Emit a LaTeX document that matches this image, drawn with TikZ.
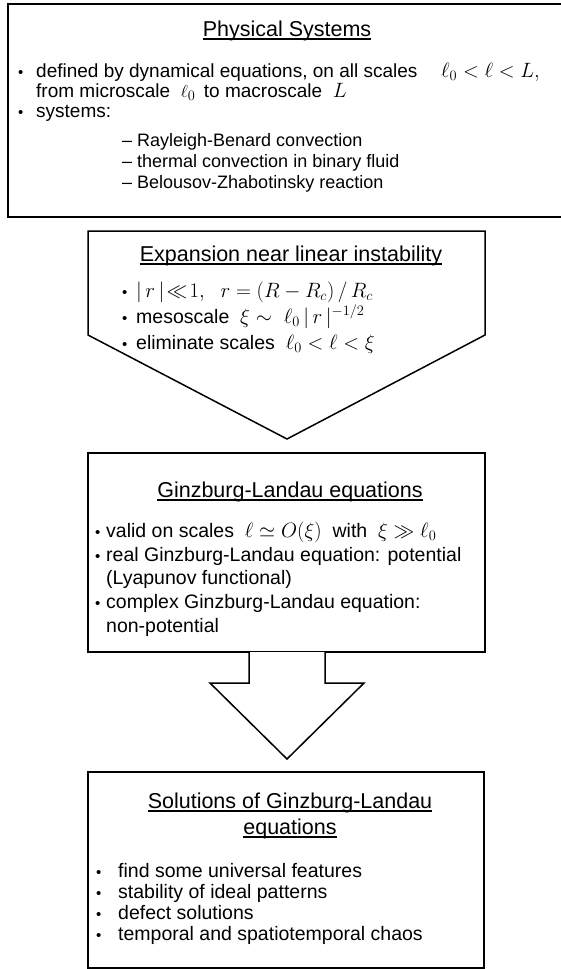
\documentclass[tikz,border=0pt]{standalone}
\usepackage{amsmath,amssymb}
\usepackage{fontspec}
\setmainfont{Liberation Sans}
\begin{document}
\begin{tikzpicture}[x=1pt,y=-1pt,
  box/.style={draw=black,line width=1.5pt,fill=white},
  body/.style={anchor=base west,inner sep=0pt,font=\fontsize{19.5}{22}\selectfont},
  bodyA/.style={anchor=base west,inner sep=0pt,font=\fontsize{19}{22}\selectfont},
  subit/.style={anchor=base west,inner sep=0pt,font=\fontsize{18}{20}\selectfont},
  mth/.style={anchor=base west,inner sep=0pt,font=\fontsize{21}{24}\selectfont},
  ttl/.style={anchor=base,inner sep=0pt,font=\fontsize{21.5}{24}\selectfont},
  bul/.style={anchor=base west,inner sep=0pt,font=\fontsize{15}{18}\selectfont},
  uline/.style={line width=1.1pt}]
\useasboundingbox (0,0) rectangle (561,969);
\fill[white] (0,0) rectangle (561,969);
% ---------- box 1
\coordinate (b1nw) at (8,4);
\coordinate (b1se) at (580,217);
\draw[box] (b1nw) rectangle (b1se);
\node[ttl] (t1) at (287,36) {Physical Systems};
\draw[uline] ([yshift=-3pt]t1.base west) -- ([yshift=-3pt]t1.base east);
\node[bul] (b1a) at (18,77) {•};
\node[bodyA] (l1a) at (36,77) {defined by dynamical equations, on all scales};
\node[mth] (m1a) at (441,77) {$\ell_0<\ell<L,$};
\node[bodyA] (l1b) at (36,97) {from microscale \ $\ell_0$ \,to macroscale \ {\fontsize{21}{24}\selectfont$L$}};
\node[bul] (b1c) at (18,117) {•};
\node[bodyA] (l1c) at (36,117) {systems:};
\node[subit] (l1d) at (122,146) {– Rayleigh-Benard convection};
\node[subit] (l1e) at (122,167) {– thermal convection in binary fluid};
\node[subit] (l1f) at (122,188) {– Belousov-Zhabotinsky reaction};
% ---------- pentagon
\coordinate (p1) at (88,231);
\coordinate (p2) at (485,231);
\coordinate (p3) at (485,335);
\coordinate (p4) at (287,439);
\coordinate (p5) at (88,335);
\draw[box,line join=miter] (p1) -- (p2) -- (p3) -- (p4) -- (p5) -- cycle;
\node[ttl] (t2) at (291,261) {Expansion near linear instability};
\draw[uline] ([yshift=-3pt]t2.base west) -- ([yshift=-3pt]t2.base east);
\node[bul] (b2a) at (122,297) {•};
\node[mth,font=\fontsize{22}{24}\selectfont] (l2a) at (136,297) {$|\,r\,|\!\ll\!1,\ \ r=(R-R_c)\,/\,R_c$};
\node[bul] (b2b) at (122,323) {•};
\node[body] (l2b) at (136,323) {mesoscale \ {\fontsize{22}{24}\selectfont$\xi\sim\ \ell_0\,|\,r\,|^{-1/2}$}};
\node[bul] (b2c) at (122,349) {•};
\node[body] (l2c) at (136,349) {eliminate scales \ {\fontsize{22}{24}\selectfont$\ell_0<\ell<\xi$}};
% ---------- GL box
\coordinate (g1) at (88,453);
\coordinate (g2) at (485,652);
\draw[box] (g1) rectangle (g2);
\node[ttl] (t3) at (290,497) {Ginzburg-Landau equations};
\draw[uline] ([yshift=-3pt]t3.base west) -- ([yshift=-3pt]t3.base east);
\node[bul] (b3a) at (95,537) {•};
\node[body] (l3a) at (106,537) {valid on scales \ {\fontsize{21}{24}\selectfont$\ell\simeq O(\xi)$} \ with \ {\fontsize{21}{24}\selectfont$\xi\gg\ell_0$}};
\node[bul] (b3b) at (95,561) {•};
\node[body] (l3b) at (106,561) {real Ginzburg-Landau equation: potential};
\node[body] (l3c) at (106,584) {(Lyapunov functional)};
\node[bul] (b3d) at (95,608) {•};
\node[body] (l3d) at (106,608) {complex Ginzburg-Landau equation:};
\node[body] (l3e) at (106,632) {non-potential};
% ---------- block arrow
\coordinate (a1) at (249,652);
\coordinate (a2) at (325,652);
\coordinate (a3) at (325,683);
\coordinate (a4) at (364,683);
\coordinate (a5) at (287,759);
\coordinate (a6) at (210,683);
\coordinate (a7) at (249,683);
\draw[box,line join=miter] (a1) -- (a7) -- (a6) -- (a5) -- (a4) -- (a3) -- (a2);
% ---------- bottom box
\coordinate (s1) at (88,772);
\coordinate (s2) at (484,968);
\draw[box] (s1) rectangle (s2);
\node[ttl] (t4a) at (290,808) {Solutions of Ginzburg-Landau};
\draw[uline] ([yshift=-3pt]t4a.base west) -- ([yshift=-3pt]t4a.base east);
\node[ttl] (t4b) at (290,834) {equations};
\draw[uline] ([yshift=-3pt]t4b.base west) -- ([yshift=-3pt]t4b.base east);
\node[bul] (b4a) at (96,877) {•};
\node[body] (l4a) at (118,877) {find some universal features};
\node[bul] (b4b) at (96,898) {•};
\node[body] (l4b) at (118,898) {stability of ideal patterns};
\node[bul] (b4c) at (96,919) {•};
\node[body] (l4c) at (118,919) {defect solutions};
\node[bul] (b4d) at (96,940) {•};
\node[body] (l4d) at (118,940) {temporal and spatiotemporal chaos};
\end{tikzpicture}
\end{document}
